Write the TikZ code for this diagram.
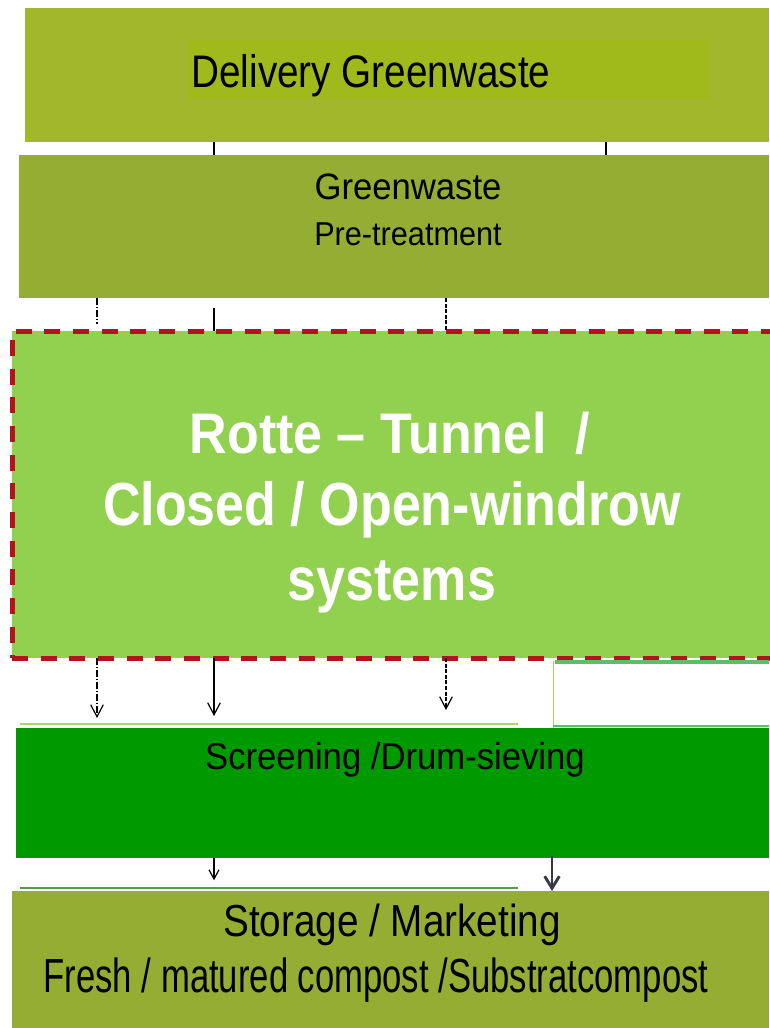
\documentclass[tikz,border=0pt]{standalone}
\usepackage{fontspec}
\setmainfont{Liberation Sans}
\usepackage{tikz}
\usetikzlibrary{shapes,arrows,arrows.meta,fit}

\definecolor{delivgreen}{RGB}{163,183,44}
\definecolor{delivinner}{RGB}{160,185,27}
\definecolor{pregreen}{RGB}{149,173,50}
\definecolor{rottegreen}{RGB}{146,208,80}
\definecolor{rottered}{RGB}{181,18,27}
\definecolor{screengreen}{RGB}{0,153,0}
\definecolor{storegreen}{RGB}{149,173,50}
\definecolor{edgelight}{RGB}{169,215,111}
\definecolor{edgemid}{RGB}{92,192,106}
\definecolor{edgedark}{RGB}{78,159,69}
\definecolor{arrowgray}{RGB}{58,58,68}

\newcommand{\vstretch}[2]{\scalebox{1}[#1]{#2}}

\begin{document}
\begin{tikzpicture}[x=0.75pt,y=0.75pt,yscale=-1,xscale=1,
    stage/.style={draw=none,inner sep=0pt,outer sep=0pt},
    txtnode/.style={inner sep=0pt,text=black},
    whitetxt/.style={inner sep=0pt,text=white,font=\fontsize{39}{47}\selectfont\bfseries},
    link/.style={black,line width=0.9pt},
    linkarrow/.style={link,-{Straight Barb[length=9pt,width=9.5pt]}},
    trim/.style={line width=2pt}]
  \useasboundingbox (0,0) rectangle (769,1028);

  %Shape: Rectangle [Delivery]
  \node [stage,fill=delivgreen,fit={(25,8) (769,142)}] (deliv) {};
  \node [stage,fill=delivinner,fit={(188,40) (710,99)}] (delivhl) {};
  %Shape: Rectangle [Pre-treatment]
  \node [stage,fill=pregreen,fit={(19,155) (769,298)}] (pretreat) {};
  %Shape: Rectangle [Rotte]
  \node [stage,fill=rottegreen,draw=rottered,line width=3.75pt,dash pattern=on 12pt off 9.5pt,fit={(12,331) (790,658)}] (rotte) {};
  %Shape: Rectangle [Screening]
  \node [stage,fill=screengreen,fit={(16,728) (769,858)}] (screen) {};
  %Shape: Rectangle [Storage]
  \node [stage,fill=storegreen,fit={(12,891) (769,1028)}] (store) {};

  %Straight Lines [edges]
  \draw [trim,edgelight] (20,724) -- (518,724);
  \draw [trim,edgemid,line width=2.5pt] (555,662) -- (769,662);
  \draw [edgelight,line width=0.6pt] (553,661) -- (553,728);
  \draw [trim,edgemid] (553,726) -- (769,726);
  \draw [trim,edgedark] (20,888) -- (518,888);

  % columns
  \coordinate (colA) at (97,0);
  \coordinate (colB) at (214,0);
  \coordinate (colC) at (446,0);
  \coordinate (colD) at (606,0);
  \coordinate (colE) at (552,0);

  %Straight Lines [connectors]
  \draw [link] (deliv.south -| colB) -- (pretreat.north -| colB);
  \draw [link,line width=1.3pt] (deliv.south -| colD) -- (pretreat.north -| colD);
  \draw [link,dash pattern=on 5pt off 1.5pt on 1pt off 1.5pt,shorten >=5pt] (pretreat.south -| colA) -- (rotte.north -| colA);
  \draw [link,line width=1.3pt,shorten <=7.5pt] (pretreat.south -| colB) -- (rotte.north -| colB);
  \draw [link,dash pattern=on 3pt off 1.2pt] (pretreat.south -| colC) -- (rotte.north -| colC);
  \draw [linkarrow,dash pattern=on 5pt off 1.5pt on 1pt off 1.5pt,shorten >=7.5pt] (rotte.south -| colA) -- (screen.north -| colA);
  \draw [linkarrow,shorten >=9pt] (rotte.south -| colB) -- (screen.north -| colB);
  \draw [linkarrow,dash pattern=on 3pt off 1.2pt,shorten >=13.5pt] (rotte.south -| colC) -- (screen.north -| colC);
  \draw [linkarrow,-{Straight Barb[length=7pt,width=7.5pt]},shorten >=8pt] (screen.south -| colB) -- (store.north -| colB);
  \draw [arrowgray,line width=2.2pt,-{Straight Barb[length=9pt,width=11pt]},shorten <=-1.5pt] (screen.south -| colE) -- (store.north -| colE);

  % Text Node
  \node [txtnode,font=\fontsize{29}{35}\selectfont] (delivtxt) at (371,76) {\vstretch{1.18}{Delivery Greenwaste}};
  % Text Node
  \node [txtnode,font=\fontsize{26}{31}\selectfont] (pretxta) at (408,187) {\vstretch{1.06}{Greenwaste}};
  % Text Node
  \node [txtnode,font=\fontsize{23}{28}\selectfont] (pretxtb) at (408,234) {\vstretch{1.08}{Pre-treatment}};
  % Text Node
  \node [whitetxt] (rottetxta) at (390,433) {\vstretch{1.1}{Rotte – Tunnel~~/}};
  % Text Node
  \node [whitetxt] (rottetxtb) at (392,510) {\vstretch{1.17}{Closed / Open-windrow}};
  % Text Node
  \node [whitetxt] (rottetxtc) at (392,587) {\vstretch{1.17}{systems}};
  % Text Node
  \node [txtnode,font=\fontsize{26}{31}\selectfont] (screentxt) at (395,760) {\vstretch{1.08}{Screening /Drum-sieving}};
  % Text Node
  \node [txtnode,font=\fontsize{29}{35}\selectfont] (storetxta) at (392,925) {\vstretch{1.16}{Storage / Marketing}};
  % Text Node
  \node [txtnode,font=\fontsize{26}{31}\selectfont] (storetxtb) at (376,980) {\vstretch{1.38}{Fresh / matured compost /Substratcompost}};
\end{tikzpicture}
\end{document}
